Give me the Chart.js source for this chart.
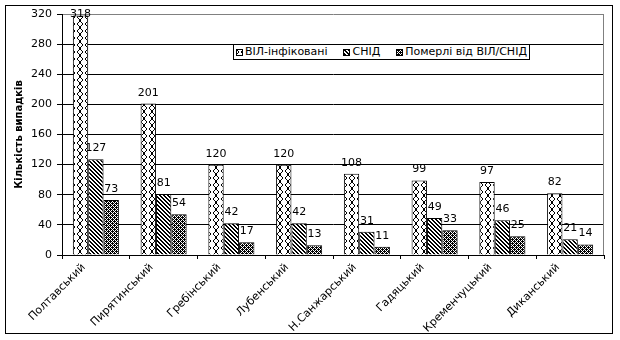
<!DOCTYPE html>
<html><head><meta charset="utf-8">
<script src="https://cdn.jsdelivr.net/npm/chart.js@4.4.1/dist/chart.umd.min.js"></script>
<style>
html,body{margin:0;padding:0;background:#fff;}
#wrap{position:relative;width:620px;height:340px;}
#legend{position:absolute;left:233px;top:44px;width:291px;height:14px;padding:0 2px 0 2px;border:1px solid #000;background:#fff;font:11px "DejaVu Sans",sans-serif;color:#000;display:flex;justify-content:space-between;align-items:center;}
#legend .it{display:flex;align-items:center;white-space:nowrap;line-height:14px;}
#legend canvas{display:block;margin-right:2px;}
</style></head>
<body><div id="wrap"><canvas id="c" width="620" height="340"></canvas>
<div id="legend"></div></div>
<script>
const categories = ['Полтавський','Пирятинський','Гребінський','Лубенський','Н.Санжарський','Гадяцький','Кременчуцький','Диканський'];
const hivInfected = [318,201,120,120,108,99,97,82];
const aids = [127,81,42,42,31,49,46,21];
const deaths = [73,54,17,13,11,33,25,14];
const seriesNames = ['ВІЛ-інфіковані','СНІД','Померлі від ВІЛ/СНІД'];
const yTitle = 'Кількість випадків';
const yMin = 0, yMax = 320, yStep = 40;

const FONT = '"DejaVu Sans", sans-serif';

function tileFrom(rows){
  const h = rows.length, w = rows[0].length;
  const t = document.createElement('canvas'); t.width = w; t.height = h;
  const g = t.getContext('2d');
  g.fillStyle = '#fff'; g.fillRect(0,0,w,h);
  g.fillStyle = '#000';
  for (let y=0;y<h;y++) for (let x=0;x<w;x++) if (rows[y][x]==='X') g.fillRect(x,y,1,1);
  return t;
}
const tiles = [
  tileFrom([
    "X......X",
    ".X....X.",
    "..X..X..",
    "..X..X..",
    ".X....X.",
    "X......X",
    "X......X"
  ]),
  tileFrom([
    "XX..",
    ".XX.",
    "..XX",
    "X..X"
  ]),
  tileFrom([
    "X.X.",
    ".XXX",
    "X.X.",
    "XX.X"
  ])
];
const mainCtx = document.getElementById('c').getContext('2d');
const patterns = tiles.map(t => mainCtx.createPattern(t,'repeat'));

// legend
const legend = document.getElementById('legend');
seriesNames.forEach((name,i)=>{
  const it = document.createElement('div'); it.className = 'it';
  const cv = document.createElement('canvas'); cv.width=7; cv.height=7;
  const g = cv.getContext('2d');
  g.fillStyle = g.createPattern(tiles[i],'repeat'); g.fillRect(0,0,7,7);
  g.strokeStyle='#000'; g.lineWidth=1; g.strokeRect(0.5,0.5,6,6);
  it.appendChild(cv);
  const s = document.createElement('span'); s.textContent = name;
  it.appendChild(s);
  legend.appendChild(it);
});

const framePlugin = {
  id:'frame',
  beforeDatasetsDraw(chart){
    const {ctx, chartArea:a} = chart;
    ctx.save(); ctx.strokeStyle='#808080'; ctx.lineWidth=1;
    ctx.beginPath(); ctx.moveTo(Math.round(a.right)-0.5, a.top); ctx.lineTo(Math.round(a.right)-0.5, a.bottom); ctx.stroke();
    ctx.restore();
  },
  afterDraw(chart){
    const ctx = chart.ctx; ctx.save(); ctx.strokeStyle='#000'; ctx.lineWidth=1;
    ctx.strokeRect(5.5,5.5,607,328); ctx.restore();
  }
};
const labelPlugin = {
  id:'vals',
  afterDatasetsDraw(chart){
    const ctx = chart.ctx; ctx.save();
    ctx.font = '11px ' + FONT; ctx.fillStyle='#000'; ctx.textAlign='center'; ctx.textBaseline='alphabetic';
    chart.data.datasets.forEach((ds,di)=>{
      chart.getDatasetMeta(di).data.forEach((el,i)=>{
        ctx.fillText(String(ds.data[i]), el.x, Math.max(el.y - 8, 17));
      });
    });
    ctx.restore();
  }
};

new Chart(mainCtx, {
  type:'bar',
  data:{
    labels: categories,
    datasets:[hivInfected, aids, deaths].map((d,i)=>({
      label: seriesNames[i], data: d, backgroundColor: patterns[i], borderColor:'#000', borderWidth:1,
      categoryPercentage:0.68, barPercentage:1
    }))
  },
  options:{
    responsive:false, animation:false, devicePixelRatio:1,
    layout:{padding:{left:0,top:14,right:16,bottom:0}},
    plugins:{legend:{display:false}, tooltip:{enabled:false}},
    scales:{
      x:{
        grid:{drawOnChartArea:false, drawTicks:true, tickLength:4, color:'#000', offset:true},
        border:{color:'#000', width:1},
        ticks:{font:{family:FONT,size:11}, color:'#000', minRotation:45, maxRotation:45, autoSkip:false, padding:2, labelOffset:-12},
        afterFit(s){ s.height = 85; }
      },
      y:{
        min:yMin, max:yMax,
        ticks:{stepSize:yStep, font:{family:FONT,size:11}, color:'#000', padding:5},
        grid:{color:(c)=> (c.tick && c.tick.value===yMax) ? '#808080' : '#000', tickColor:'#000', tickLength:5},
        border:{color:'#000', width:1},
        title:{display:true, text:yTitle, font:{family:FONT,size:10,weight:'bold'}, color:'#000', padding:{top:13,bottom:0}},
        afterFit(s){ s.width = 62; }
      }
    }
  },
  plugins:[framePlugin, labelPlugin]
});
</script>
</body></html>
